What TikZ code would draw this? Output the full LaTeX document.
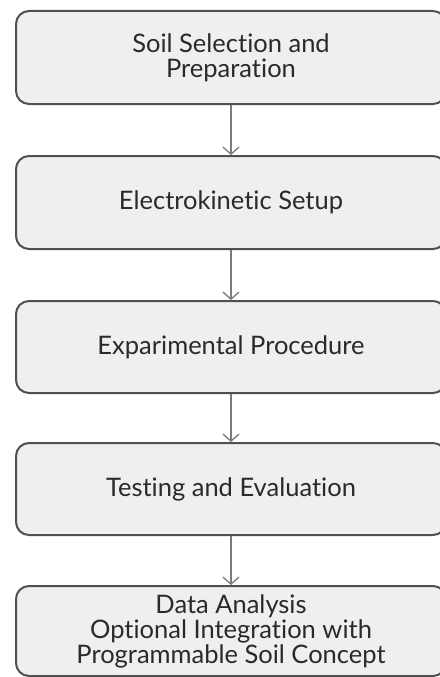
\documentclass[tikz,border=0pt]{standalone}
\usepackage{fontspec}
\setmainfont{Lato}[Ligatures=NoCommon]
\usetikzlibrary{arrows.meta}
\definecolor{boxfill}{HTML}{EFEFEF}
\definecolor{boxline}{HTML}{505050}
\definecolor{txt}{HTML}{2A2A2A}
\definecolor{arr}{HTML}{7A7A7A}
\begin{document}
\begin{tikzpicture}[x=1pt,y=-1pt,
  stepbox/.style={draw=boxline, line width=2pt, fill=boxfill, rounded corners=13pt,
    minimum width=430pt, anchor=north, text=txt, align=center,
    font=\fontsize{25.5}{25}\selectfont, inner sep=0pt},
  flow/.style={draw=arr, line width=1.3pt, -{Straight Barb[length=7pt,width=16pt,line width=1.3pt]}}]
\useasboundingbox (0,0) rectangle (439,677);
\node[stepbox, minimum height=93pt] (b1) at (231,10) {Soil Selection and\\Preparation};
\node[stepbox, minimum height=93pt] (b2) at (231,155) {Electrokinetic Setup};
\node[stepbox, minimum height=92pt] (b3) at (231,300) {Exparimental Procedure};
\node[stepbox, minimum height=92pt] (b4) at (231,442) {Testing and Evaluation};
\node[stepbox, minimum height=90pt] (b5) at (231,585) {Data Analysis\\Optional Integration with\\Programmable Soil Concept};
\draw[flow] (b1.south) -- (b2.north);
\draw[flow] (b2.south) -- (b3.north);
\draw[flow] (b3.south) -- (b4.north);
\draw[flow] (b4.south) -- (b5.north);
\end{tikzpicture}
\end{document}
